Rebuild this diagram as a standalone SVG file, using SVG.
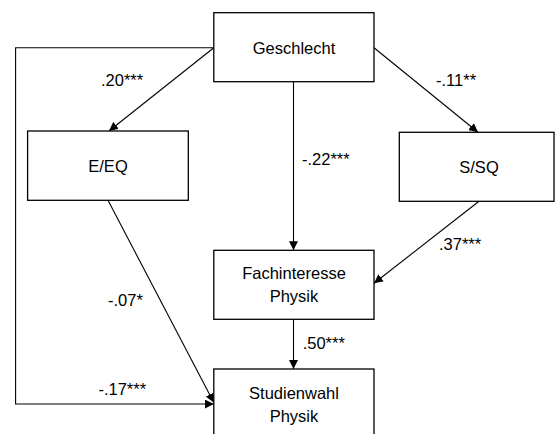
<svg xmlns="http://www.w3.org/2000/svg" width="555" height="434" viewBox="0 0 555 434">
<defs>
<style>
.box{fill:#fff;stroke:#000;stroke-width:1.3}
.t{font-family:"Liberation Sans",Arial,sans-serif;font-size:16.5px;fill:#000}
.c{text-anchor:middle}
.ln{fill:none;stroke:#000;stroke-width:1.1}
</style>
<marker id="ah" viewBox="0 0 10 10" refX="10" refY="5" markerWidth="9" markerHeight="9" markerUnits="userSpaceOnUse" orient="auto">
<path d="M0,0 L10,5 L0,10 z" fill="#000"/>
</marker>
</defs>
<rect width="555" height="434" fill="#fff"/>
<g id="connectors">
<line class="ln" x1="213.8" y1="47.7" x2="109" y2="131" marker-end="url(#ah)"/>
<line class="ln" x1="374" y1="47.7" x2="478" y2="132.3" marker-end="url(#ah)"/>
<line class="ln" x1="293.5" y1="81.7" x2="293.5" y2="250.3" marker-end="url(#ah)"/>
<line class="ln" x1="479" y1="201.3" x2="374" y2="283.3" marker-end="url(#ah)"/>
<line class="ln" x1="108" y1="200.3" x2="213.8" y2="402.5" marker-end="url(#ah)"/>
<line class="ln" x1="293.5" y1="319.3" x2="293.5" y2="369" marker-end="url(#ah)"/>
<polyline class="ln" points="213.8,47.7 15.6,47.7 15.6,404 213.8,404" marker-end="url(#ah)"/>
<text class="t" x="101" y="86">.20***</text>
<text class="t" x="436" y="86">-.11**</text>
<text class="t" x="302" y="165">-.22***</text>
<text class="t" x="439" y="250">.37***</text>
<text class="t" x="108" y="306">-.07*</text>
<text class="t" x="302.7" y="349">.50***</text>
<text class="t" x="98.4" y="395">-.17***</text>
</g>
<g id="geschlecht">
<rect class="box" x="213.8" y="12.7" width="160.2" height="69"/>
<text class="t c" x="294" y="54">Geschlecht</text>
</g>
<g id="eeq">
<rect class="box" x="27.6" y="131" width="160.7" height="69.3"/>
<text class="t c" x="108" y="172.3">E/EQ</text>
</g>
<g id="ssq">
<rect class="box" x="399.3" y="132.3" width="154.7" height="69"/>
<text class="t c" x="479" y="173.3">S/SQ</text>
</g>
<g id="fachinteresse">
<rect class="box" x="213.8" y="250.3" width="160.2" height="69"/>
<text class="t c" x="294" y="279.3">Fachinteresse</text>
<text class="t c" x="294" y="301.7">Physik</text>
</g>
<g id="studienwahl">
<rect class="box" x="213.8" y="369" width="160.2" height="80"/>
<text class="t c" x="294" y="399.3">Studienwahl</text>
<text class="t c" x="294" y="421.7">Physik</text>
</g>
</svg>
